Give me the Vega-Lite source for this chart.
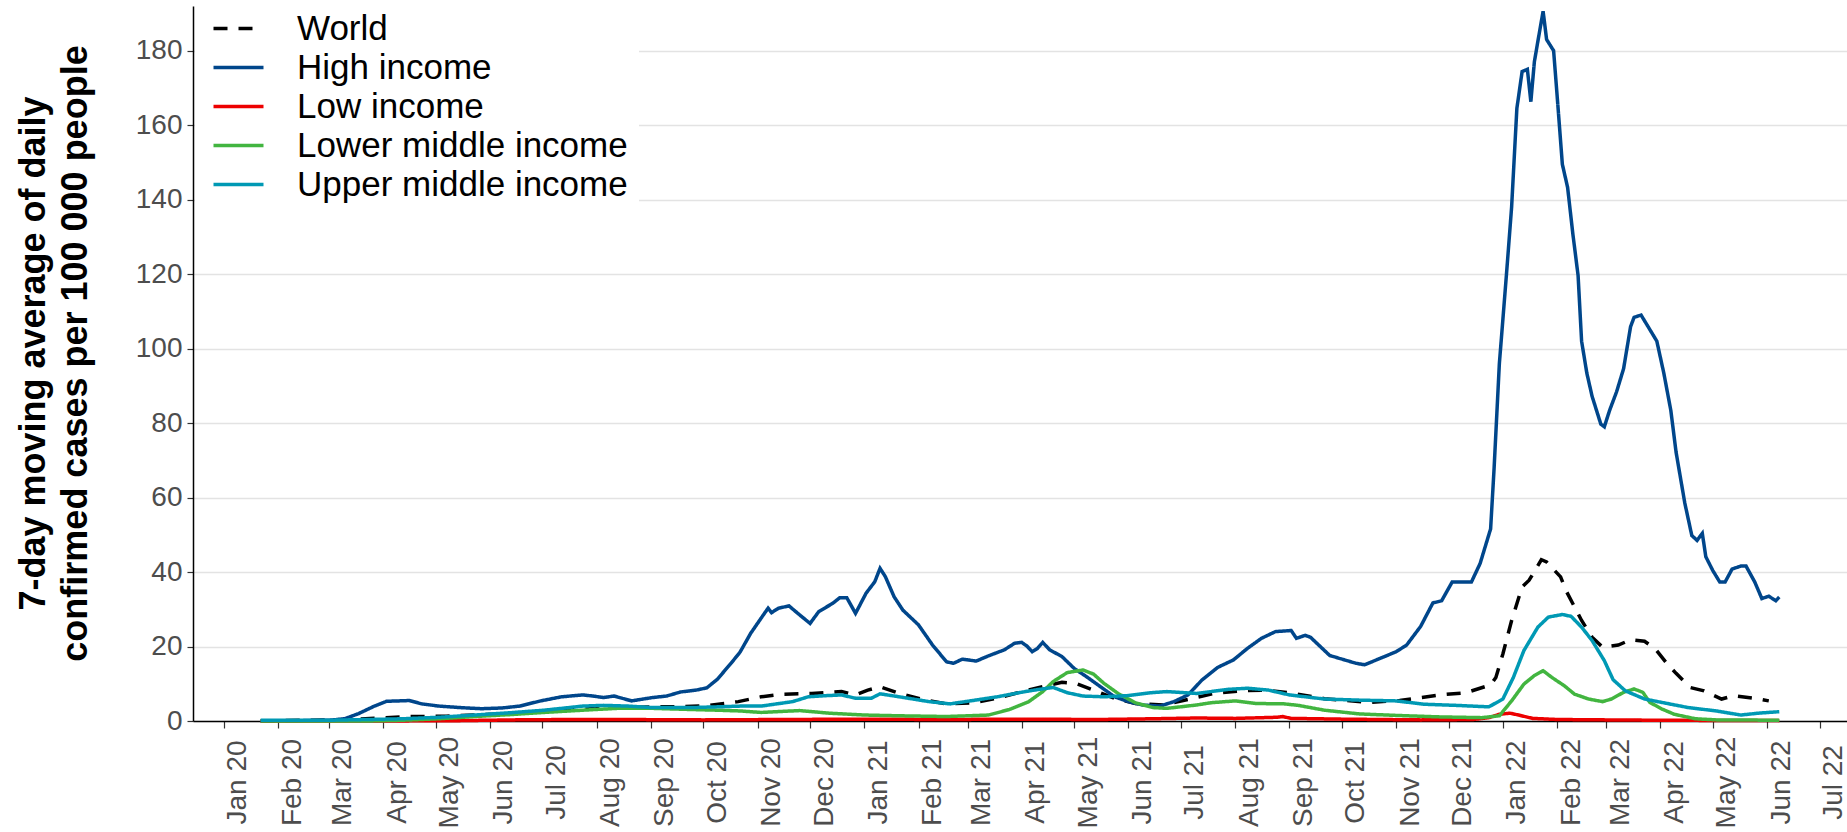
{
"$schema": "https://vega.github.io/schema/vega-lite/v6.json",
"autosize": {"type": "none"},
"width": 1654, "height": 715,
"padding": {"left": 193, "top": 6, "right": 0, "bottom": 111},
"background": "white",
"config": {"font": "Liberation Sans", "view": {"stroke": null}},
"data": {"values": [
{"s":"World","d":"2020-01-22","v":0.0},{"s":"World","d":"2020-03-01","v":0.3},{"s":"World","d":"2020-03-15","v":0.4},{"s":"World","d":"2020-03-29","v":0.8},{"s":"World","d":"2020-04-16","v":1.2},{"s":"World","d":"2020-05-07","v":1.3},{"s":"World","d":"2020-05-23","v":1.6},{"s":"World","d":"2020-06-12","v":2.0},{"s":"World","d":"2020-07-02","v":2.5},{"s":"World","d":"2020-07-20","v":3.1},{"s":"World","d":"2020-08-11","v":3.5},{"s":"World","d":"2020-09-01","v":3.8},{"s":"World","d":"2020-09-17","v":3.8},{"s":"World","d":"2020-10-05","v":4.2},{"s":"World","d":"2020-10-21","v":5.2},{"s":"World","d":"2020-11-03","v":6.5},{"s":"World","d":"2020-11-15","v":7.2},{"s":"World","d":"2020-12-02","v":7.4},{"s":"World","d":"2020-12-19","v":7.9},{"s":"World","d":"2020-12-27","v":7.0},{"s":"World","d":"2021-01-03","v":8.3},{"s":"World","d":"2021-01-10","v":9.2},{"s":"World","d":"2021-01-21","v":7.4},{"s":"World","d":"2021-02-05","v":5.6},{"s":"World","d":"2021-02-17","v":4.6},{"s":"World","d":"2021-03-04","v":4.9},{"s":"World","d":"2021-03-18","v":6.1},{"s":"World","d":"2021-04-01","v":7.9},{"s":"World","d":"2021-04-13","v":9.2},{"s":"World","d":"2021-04-24","v":10.4},{"s":"World","d":"2021-05-02","v":10.1},{"s":"World","d":"2021-05-12","v":8.3},{"s":"World","d":"2021-05-24","v":6.1},{"s":"World","d":"2021-06-05","v":4.7},{"s":"World","d":"2021-06-21","v":4.3},{"s":"World","d":"2021-07-05","v":5.8},{"s":"World","d":"2021-07-20","v":7.4},{"s":"World","d":"2021-08-04","v":8.1},{"s":"World","d":"2021-08-18","v":8.3},{"s":"World","d":"2021-09-01","v":7.6},{"s":"World","d":"2021-09-21","v":6.0},{"s":"World","d":"2021-10-16","v":5.0},{"s":"World","d":"2021-11-03","v":5.5},{"s":"World","d":"2021-11-26","v":7.0},{"s":"World","d":"2021-12-11","v":7.6},{"s":"World","d":"2021-12-25","v":9.7},{"s":"World","d":"2021-12-28","v":11.7},{"s":"World","d":"2022-01-01","v":18},{"s":"World","d":"2022-01-06","v":27},{"s":"World","d":"2022-01-12","v":36},{"s":"World","d":"2022-01-16","v":37.8},{"s":"World","d":"2022-01-23","v":43.3},{"s":"World","d":"2022-01-26","v":42.7},{"s":"World","d":"2022-02-03","v":38.7},{"s":"World","d":"2022-02-06","v":35.1},{"s":"World","d":"2022-02-11","v":30.6},{"s":"World","d":"2022-02-15","v":27},{"s":"World","d":"2022-02-21","v":22.5},{"s":"World","d":"2022-02-27","v":19.8},{"s":"World","d":"2022-03-08","v":20.4},{"s":"World","d":"2022-03-15","v":21.8},{"s":"World","d":"2022-03-23","v":21.4},{"s":"World","d":"2022-03-29","v":19.4},{"s":"World","d":"2022-04-05","v":15.3},{"s":"World","d":"2022-04-10","v":12.8},{"s":"World","d":"2022-04-18","v":9.0},{"s":"World","d":"2022-04-26","v":8.1},{"s":"World","d":"2022-05-06","v":5.9},{"s":"World","d":"2022-05-13","v":6.8},{"s":"World","d":"2022-05-25","v":6.1},{"s":"World","d":"2022-06-02","v":5.4},
{"s":"High income","d":"2020-01-22","v":0.1},{"s":"High income","d":"2020-02-15","v":0.1},{"s":"High income","d":"2020-03-01","v":0.2},{"s":"High income","d":"2020-03-10","v":0.6},{"s":"High income","d":"2020-03-18","v":2.0},{"s":"High income","d":"2020-03-27","v":4.0},{"s":"High income","d":"2020-04-03","v":5.3},{"s":"High income","d":"2020-04-10","v":5.4},{"s":"High income","d":"2020-04-16","v":5.5},{"s":"High income","d":"2020-04-23","v":4.6},{"s":"High income","d":"2020-05-03","v":4.0},{"s":"High income","d":"2020-05-15","v":3.6},{"s":"High income","d":"2020-05-27","v":3.3},{"s":"High income","d":"2020-06-08","v":3.5},{"s":"High income","d":"2020-06-18","v":4.0},{"s":"High income","d":"2020-06-30","v":5.4},{"s":"High income","d":"2020-07-12","v":6.5},{"s":"High income","d":"2020-07-24","v":7.0},{"s":"High income","d":"2020-07-30","v":6.7},{"s":"High income","d":"2020-08-05","v":6.3},{"s":"High income","d":"2020-08-11","v":6.7},{"s":"High income","d":"2020-08-21","v":5.4},{"s":"High income","d":"2020-09-02","v":6.3},{"s":"High income","d":"2020-09-10","v":6.7},{"s":"High income","d":"2020-09-18","v":7.8},{"s":"High income","d":"2020-09-27","v":8.3},{"s":"High income","d":"2020-10-03","v":8.9},{"s":"High income","d":"2020-10-09","v":11.2},{"s":"High income","d":"2020-10-17","v":15.6},{"s":"High income","d":"2020-10-22","v":18.5},{"s":"High income","d":"2020-10-28","v":23.5},{"s":"High income","d":"2020-11-03","v":27.6},{"s":"High income","d":"2020-11-07","v":30.3},{"s":"High income","d":"2020-11-09","v":29.1},{"s":"High income","d":"2020-11-13","v":30.3},{"s":"High income","d":"2020-11-19","v":30.9},{"s":"High income","d":"2020-11-24","v":28.9},{"s":"High income","d":"2020-12-01","v":26.2},{"s":"High income","d":"2020-12-06","v":29.4},{"s":"High income","d":"2020-12-14","v":31.6},{"s":"High income","d":"2020-12-18","v":33.1},{"s":"High income","d":"2020-12-22","v":33.1},{"s":"High income","d":"2020-12-27","v":28.9},{"s":"High income","d":"2021-01-02","v":34.3},{"s":"High income","d":"2021-01-07","v":37.4},{"s":"High income","d":"2021-01-10","v":41.0},{"s":"High income","d":"2021-01-13","v":38.8},{"s":"High income","d":"2021-01-18","v":33.4},{"s":"High income","d":"2021-01-23","v":29.8},{"s":"High income","d":"2021-02-01","v":25.8},{"s":"High income","d":"2021-02-09","v":20.4},{"s":"High income","d":"2021-02-17","v":15.9},{"s":"High income","d":"2021-02-21","v":15.5},{"s":"High income","d":"2021-02-26","v":16.6},{"s":"High income","d":"2021-03-06","v":16.1},{"s":"High income","d":"2021-03-13","v":17.5},{"s":"High income","d":"2021-03-22","v":19.1},{"s":"High income","d":"2021-03-28","v":20.9},{"s":"High income","d":"2021-04-01","v":21.1},{"s":"High income","d":"2021-04-04","v":20.1},{"s":"High income","d":"2021-04-07","v":18.6},{"s":"High income","d":"2021-04-10","v":19.5},{"s":"High income","d":"2021-04-13","v":21.1},{"s":"High income","d":"2021-04-17","v":19.1},{"s":"High income","d":"2021-04-24","v":17.3},{"s":"High income","d":"2021-05-01","v":14.1},{"s":"High income","d":"2021-05-08","v":11.9},{"s":"High income","d":"2021-05-16","v":9.2},{"s":"High income","d":"2021-05-24","v":6.5},{"s":"High income","d":"2021-06-01","v":5.2},{"s":"High income","d":"2021-06-09","v":4.3},{"s":"High income","d":"2021-06-19","v":4.0},{"s":"High income","d":"2021-06-27","v":5.2},{"s":"High income","d":"2021-07-05","v":7.0},{"s":"High income","d":"2021-07-13","v":11.0},{"s":"High income","d":"2021-07-22","v":14.4},{"s":"High income","d":"2021-07-31","v":16.4},{"s":"High income","d":"2021-08-08","v":19.5},{"s":"High income","d":"2021-08-16","v":22.2},{"s":"High income","d":"2021-08-24","v":24.0},{"s":"High income","d":"2021-09-02","v":24.3},{"s":"High income","d":"2021-09-05","v":22.2},{"s":"High income","d":"2021-09-10","v":23.0},{"s":"High income","d":"2021-09-13","v":22.5},{"s":"High income","d":"2021-09-24","v":17.6},{"s":"High income","d":"2021-10-09","v":15.5},{"s":"High income","d":"2021-10-14","v":15.1},{"s":"High income","d":"2021-11-01","v":18.6},{"s":"High income","d":"2021-11-07","v":20.4},{"s":"High income","d":"2021-11-15","v":25.4},{"s":"High income","d":"2021-11-22","v":31.7},{"s":"High income","d":"2021-11-27","v":32.3},{"s":"High income","d":"2021-12-03","v":37.3},{"s":"High income","d":"2021-12-09","v":37.3},{"s":"High income","d":"2021-12-14","v":37.3},{"s":"High income","d":"2021-12-19","v":42.3},{"s":"High income","d":"2021-12-25","v":51.6},{"s":"High income","d":"2021-12-27","v":68},{"s":"High income","d":"2021-12-30","v":96},{"s":"High income","d":"2022-01-03","v":119.6},{"s":"High income","d":"2022-01-06","v":138},{"s":"High income","d":"2022-01-09","v":164.5},{"s":"High income","d":"2022-01-12","v":174.4},{"s":"High income","d":"2022-01-15","v":175},{"s":"High income","d":"2022-01-17","v":166.3},{"s":"High income","d":"2022-01-19","v":177},{"s":"High income","d":"2022-01-21","v":182.5},{"s":"High income","d":"2022-01-24","v":190.6},{"s":"High income","d":"2022-01-26","v":183},{"s":"High income","d":"2022-01-30","v":180},{"s":"High income","d":"2022-02-01","v":168},{"s":"High income","d":"2022-02-04","v":149.5},{"s":"High income","d":"2022-02-07","v":143.3},{"s":"High income","d":"2022-02-10","v":130.8},{"s":"High income","d":"2022-02-13","v":119.6},{"s":"High income","d":"2022-02-15","v":102},{"s":"High income","d":"2022-02-18","v":93.4},{"s":"High income","d":"2022-02-21","v":87.2},{"s":"High income","d":"2022-02-26","v":79.7},{"s":"High income","d":"2022-02-28","v":79},{"s":"High income","d":"2022-03-03","v":83.4},{"s":"High income","d":"2022-03-07","v":88.4},{"s":"High income","d":"2022-03-11","v":94.6},{"s":"High income","d":"2022-03-15","v":105.9},{"s":"High income","d":"2022-03-17","v":108.4},{"s":"High income","d":"2022-03-21","v":109},{"s":"High income","d":"2022-03-25","v":105.9},{"s":"High income","d":"2022-03-30","v":102},{"s":"High income","d":"2022-04-03","v":93.4},{"s":"High income","d":"2022-04-07","v":83.4},{"s":"High income","d":"2022-04-10","v":72.2},{"s":"High income","d":"2022-04-15","v":58.5},{"s":"High income","d":"2022-04-19","v":49.8},{"s":"High income","d":"2022-04-22","v":48.5},{"s":"High income","d":"2022-04-25","v":50.4},{"s":"High income","d":"2022-04-27","v":44.1},{"s":"High income","d":"2022-05-01","v":40.4},{"s":"High income","d":"2022-05-05","v":37.3},{"s":"High income","d":"2022-05-08","v":37.3},{"s":"High income","d":"2022-05-12","v":40.8},{"s":"High income","d":"2022-05-17","v":41.6},{"s":"High income","d":"2022-05-20","v":41.6},{"s":"High income","d":"2022-05-25","v":37.3},{"s":"High income","d":"2022-05-29","v":32.9},{"s":"High income","d":"2022-06-02","v":33.5},{"s":"High income","d":"2022-06-06","v":32.3},{"s":"High income","d":"2022-06-08","v":33.3},
{"s":"Low income","d":"2020-01-22","v":0.0},{"s":"Low income","d":"2020-04-01","v":0.0},{"s":"Low income","d":"2020-05-15","v":0.1},{"s":"Low income","d":"2020-06-15","v":0.3},{"s":"Low income","d":"2020-07-15","v":0.4},{"s":"Low income","d":"2020-08-15","v":0.4},{"s":"Low income","d":"2020-10-01","v":0.3},{"s":"Low income","d":"2020-11-15","v":0.4},{"s":"Low income","d":"2021-01-01","v":0.5},{"s":"Low income","d":"2021-02-15","v":0.4},{"s":"Low income","d":"2021-04-01","v":0.5},{"s":"Low income","d":"2021-05-15","v":0.4},{"s":"Low income","d":"2021-06-15","v":0.6},{"s":"Low income","d":"2021-07-10","v":0.8},{"s":"Low income","d":"2021-08-01","v":0.7},{"s":"Low income","d":"2021-08-25","v":1.0},{"s":"Low income","d":"2021-08-28","v":1.2},{"s":"Low income","d":"2021-09-02","v":0.7},{"s":"Low income","d":"2021-10-01","v":0.5},{"s":"Low income","d":"2021-11-15","v":0.3},{"s":"Low income","d":"2021-12-15","v":0.4},{"s":"Low income","d":"2021-12-24","v":0.9},{"s":"Low income","d":"2021-12-30","v":1.8},{"s":"Low income","d":"2022-01-05","v":2.1},{"s":"Low income","d":"2022-01-10","v":1.6},{"s":"Low income","d":"2022-01-18","v":0.7},{"s":"Low income","d":"2022-02-01","v":0.4},{"s":"Low income","d":"2022-03-01","v":0.3},{"s":"Low income","d":"2022-04-01","v":0.2},{"s":"Low income","d":"2022-06-08","v":0.1},
{"s":"Lower middle income","d":"2020-01-22","v":0.0},{"s":"Lower middle income","d":"2020-03-23","v":0.0},{"s":"Lower middle income","d":"2020-04-12","v":0.2},{"s":"Lower middle income","d":"2020-05-03","v":0.6},{"s":"Lower middle income","d":"2020-05-23","v":1.2},{"s":"Lower middle income","d":"2020-06-12","v":1.7},{"s":"Lower middle income","d":"2020-07-02","v":2.3},{"s":"Lower middle income","d":"2020-07-24","v":2.9},{"s":"Lower middle income","d":"2020-08-13","v":3.4},{"s":"Lower middle income","d":"2020-09-02","v":3.4},{"s":"Lower middle income","d":"2020-09-23","v":3.1},{"s":"Lower middle income","d":"2020-10-09","v":2.9},{"s":"Lower middle income","d":"2020-10-22","v":2.7},{"s":"Lower middle income","d":"2020-11-03","v":2.3},{"s":"Lower middle income","d":"2020-11-25","v":2.8},{"s":"Lower middle income","d":"2020-12-12","v":2.1},{"s":"Lower middle income","d":"2021-01-01","v":1.6},{"s":"Lower middle income","d":"2021-01-21","v":1.4},{"s":"Lower middle income","d":"2021-02-17","v":1.2},{"s":"Lower middle income","d":"2021-03-13","v":1.6},{"s":"Lower middle income","d":"2021-03-25","v":3.1},{"s":"Lower middle income","d":"2021-04-05","v":5.2},{"s":"Lower middle income","d":"2021-04-13","v":7.9},{"s":"Lower middle income","d":"2021-04-19","v":10.6},{"s":"Lower middle income","d":"2021-04-27","v":13.0},{"s":"Lower middle income","d":"2021-05-06","v":13.7},{"s":"Lower middle income","d":"2021-05-12","v":12.6},{"s":"Lower middle income","d":"2021-05-18","v":10.1},{"s":"Lower middle income","d":"2021-05-26","v":7.4},{"s":"Lower middle income","d":"2021-06-05","v":4.9},{"s":"Lower middle income","d":"2021-06-15","v":3.6},{"s":"Lower middle income","d":"2021-06-23","v":3.4},{"s":"Lower middle income","d":"2021-07-10","v":4.3},{"s":"Lower middle income","d":"2021-07-18","v":4.9},{"s":"Lower middle income","d":"2021-08-01","v":5.4},{"s":"Lower middle income","d":"2021-08-13","v":4.7},{"s":"Lower middle income","d":"2021-08-29","v":4.6},{"s":"Lower middle income","d":"2021-09-06","v":4.2},{"s":"Lower middle income","d":"2021-09-21","v":2.9},{"s":"Lower middle income","d":"2021-10-11","v":1.9},{"s":"Lower middle income","d":"2021-11-01","v":1.5},{"s":"Lower middle income","d":"2021-11-26","v":1.1},{"s":"Lower middle income","d":"2021-12-20","v":0.9},{"s":"Lower middle income","d":"2021-12-30","v":1.4},{"s":"Lower middle income","d":"2022-01-06","v":5.4},{"s":"Lower middle income","d":"2022-01-13","v":9.9},{"s":"Lower middle income","d":"2022-01-19","v":12.2},{"s":"Lower middle income","d":"2022-01-24","v":13.5},{"s":"Lower middle income","d":"2022-01-29","v":11.7},{"s":"Lower middle income","d":"2022-02-05","v":9.5},{"s":"Lower middle income","d":"2022-02-11","v":7.2},{"s":"Lower middle income","d":"2022-02-19","v":5.9},{"s":"Lower middle income","d":"2022-02-27","v":5.2},{"s":"Lower middle income","d":"2022-03-04","v":5.9},{"s":"Lower middle income","d":"2022-03-11","v":7.7},{"s":"Lower middle income","d":"2022-03-17","v":8.6},{"s":"Lower middle income","d":"2022-03-22","v":7.7},{"s":"Lower middle income","d":"2022-03-26","v":5.0},{"s":"Lower middle income","d":"2022-04-02","v":3.2},{"s":"Lower middle income","d":"2022-04-09","v":1.8},{"s":"Lower middle income","d":"2022-04-21","v":0.6},{"s":"Lower middle income","d":"2022-05-03","v":0.3},{"s":"Lower middle income","d":"2022-06-08","v":0.2},
{"s":"Upper middle income","d":"2020-01-22","v":0.2},{"s":"Upper middle income","d":"2020-03-01","v":0.2},{"s":"Upper middle income","d":"2020-03-23","v":0.4},{"s":"Upper middle income","d":"2020-04-12","v":0.6},{"s":"Upper middle income","d":"2020-05-03","v":1.0},{"s":"Upper middle income","d":"2020-05-23","v":1.6},{"s":"Upper middle income","d":"2020-06-12","v":2.2},{"s":"Upper middle income","d":"2020-07-02","v":2.9},{"s":"Upper middle income","d":"2020-07-24","v":4.0},{"s":"Upper middle income","d":"2020-08-05","v":4.2},{"s":"Upper middle income","d":"2020-08-19","v":4.0},{"s":"Upper middle income","d":"2020-09-02","v":3.6},{"s":"Upper middle income","d":"2020-09-23","v":3.6},{"s":"Upper middle income","d":"2020-10-09","v":3.8},{"s":"Upper middle income","d":"2020-10-22","v":4.0},{"s":"Upper middle income","d":"2020-11-03","v":4.0},{"s":"Upper middle income","d":"2020-11-21","v":5.2},{"s":"Upper middle income","d":"2020-11-30","v":6.5},{"s":"Upper middle income","d":"2020-12-10","v":6.8},{"s":"Upper middle income","d":"2020-12-19","v":7.0},{"s":"Upper middle income","d":"2020-12-27","v":6.1},{"s":"Upper middle income","d":"2021-01-05","v":6.1},{"s":"Upper middle income","d":"2021-01-10","v":7.3},{"s":"Upper middle income","d":"2021-01-21","v":6.5},{"s":"Upper middle income","d":"2021-02-07","v":5.2},{"s":"Upper middle income","d":"2021-02-19","v":4.6},{"s":"Upper middle income","d":"2021-03-04","v":5.5},{"s":"Upper middle income","d":"2021-03-18","v":6.5},{"s":"Upper middle income","d":"2021-04-03","v":7.9},{"s":"Upper middle income","d":"2021-04-11","v":8.5},{"s":"Upper middle income","d":"2021-04-19","v":9.0},{"s":"Upper middle income","d":"2021-04-27","v":7.6},{"s":"Upper middle income","d":"2021-05-06","v":6.7},{"s":"Upper middle income","d":"2021-05-18","v":6.5},{"s":"Upper middle income","d":"2021-05-31","v":6.8},{"s":"Upper middle income","d":"2021-06-14","v":7.6},{"s":"Upper middle income","d":"2021-06-23","v":7.9},{"s":"Upper middle income","d":"2021-07-10","v":7.4},{"s":"Upper middle income","d":"2021-07-28","v":8.5},{"s":"Upper middle income","d":"2021-08-08","v":8.8},{"s":"Upper middle income","d":"2021-08-20","v":8.3},{"s":"Upper middle income","d":"2021-09-01","v":7.0},{"s":"Upper middle income","d":"2021-09-21","v":5.9},{"s":"Upper middle income","d":"2021-10-11","v":5.6},{"s":"Upper middle income","d":"2021-11-01","v":5.4},{"s":"Upper middle income","d":"2021-11-17","v":4.5},{"s":"Upper middle income","d":"2021-12-05","v":4.2},{"s":"Upper middle income","d":"2021-12-24","v":3.8},{"s":"Upper middle income","d":"2022-01-01","v":5.9},{"s":"Upper middle income","d":"2022-01-07","v":11.7},{"s":"Upper middle income","d":"2022-01-13","v":18.9},{"s":"Upper middle income","d":"2022-01-21","v":25.2},{"s":"Upper middle income","d":"2022-01-27","v":27.9},{"s":"Upper middle income","d":"2022-02-04","v":28.6},{"s":"Upper middle income","d":"2022-02-09","v":28.1},{"s":"Upper middle income","d":"2022-02-15","v":25.2},{"s":"Upper middle income","d":"2022-02-21","v":21.6},{"s":"Upper middle income","d":"2022-02-28","v":16.2},{"s":"Upper middle income","d":"2022-03-05","v":11.1},{"s":"Upper middle income","d":"2022-03-12","v":8.1},{"s":"Upper middle income","d":"2022-03-23","v":5.9},{"s":"Upper middle income","d":"2022-04-05","v":4.7},{"s":"Upper middle income","d":"2022-04-17","v":3.6},{"s":"Upper middle income","d":"2022-05-03","v":2.7},{"s":"Upper middle income","d":"2022-05-17","v":1.6},{"s":"Upper middle income","d":"2022-05-27","v":2.1},{"s":"Upper middle income","d":"2022-06-08","v":2.5}
]},
"mark": {"type": "line", "strokeWidth": 3.5, "strokeCap": "butt"},
"encoding": {
  "x": {"field": "d", "type": "temporal",
    "scale": {"type": "utc", "domain": [1576307520000, 1657990080000]},
    "axis": {"title": null, "format": "%b %y", "tickCount": {"interval": "month", "step": 1},
      "grid": false, "domain": true, "domainColor": "black", "domainWidth": 1.5,
      "ticks": true, "tickColor": "#333333", "tickSize": 7, "tickWidth": 1.2,
      "labelAngle": -90, "labelAlign": "center", "labelBaseline": "top", "labelPadding": 54,
      "labelFontSize": 28, "labelColor": "#4d4d4d", "labelOverlap": false, "labelFlush": false, "labelBound": false}},
  "y": {"field": "v", "type": "quantitative",
    "scale": {"domain": [0, 192], "nice": false, "zero": true},
    "axis": {"values": [0, 20, 40, 60, 80, 100, 120, 140, 160, 180],
      "title": ["7-day moving average of daily", "confirmed cases per 100 000 people"],
      "titleFontSize": 36, "titleFontWeight": "bold", "titleColor": "black", "titleLineHeight": 42,
      "titleAngle": 270, "titleAlign": "center", "titleBaseline": "middle", "titleX": -160, "titleY": 347,
      "grid": true, "gridColor": "#e3e3e3", "gridWidth": 1.6,
      "domain": true, "domainColor": "black", "domainWidth": 1.5,
      "ticks": true, "tickColor": "#333333", "tickSize": 6, "tickWidth": 1.2,
      "labelFontSize": 28, "labelColor": "#4d4d4d", "labelPadding": 5}},
  "color": {"field": "s", "type": "nominal",
    "scale": {"domain": ["World", "High income", "Low income", "Lower middle income", "Upper middle income"],
      "range": ["#000000", "#00468B", "#ED0000", "#42B540", "#0099B4"]},
    "legend": {"title": null, "orient": "none", "legendX": 2, "legendY": -6, "padding": 11,
      "fillColor": "white", "labelFontSize": 35, "labelColor": "black", "labelLimit": 600,
      "symbolType": "M-1,0H4", "symbolSize": 400, "symbolStrokeWidth": 3.5, "labelOffset": 56,
      "rowPadding": 3}},
  "strokeDash": {"field": "s", "type": "nominal",
    "scale": {"domain": ["World", "High income", "Low income", "Lower middle income", "Upper middle income"],
      "range": [[14, 11], [1, 0], [1, 0], [1, 0], [1, 0]]}}
}
}
